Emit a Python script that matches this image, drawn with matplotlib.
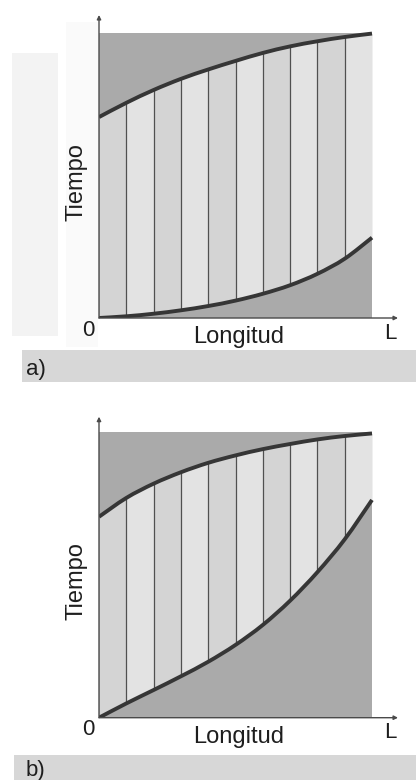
import matplotlib
matplotlib.use("Agg")
import matplotlib.pyplot as plt
from matplotlib.patches import Rectangle, PathPatch
from matplotlib.path import Path

plt.rcParams['font.family'] = ['Liberation Sans', 'DejaVu Sans']

# positions along the length (0..L), fraction of L
x_pos = [0.0, 0.1, 0.2, 0.3, 0.4, 0.5, 0.6, 0.7, 0.8, 0.9, 1.0]

# panel a
upper_a = [0.705, 0.755, 0.800, 0.839, 0.872, 0.902, 0.930, 0.953, 0.971, 0.986, 0.998]
lower_a = [0.0, 0.006, 0.015, 0.027, 0.042, 0.061, 0.085, 0.115, 0.155, 0.208, 0.282]
# panel b
upper_b = [0.704, 0.770, 0.820, 0.860, 0.893, 0.919, 0.941, 0.959, 0.975, 0.987, 0.996]
lower_b = [0.0, 0.050, 0.097, 0.145, 0.196, 0.255, 0.325, 0.410, 0.510, 0.625, 0.763]

y_label = "Tiempo"
x_label = "Longitud"
x_start = "0"
x_end = "L"
panel_labels = ["a)", "b)"]

W, H = 416, 780
fig = plt.figure(figsize=(W / 100, H / 100), dpi=100)
fig.patch.set_facecolor('white')


def fx(px):
    return px / W


def fy(py):
    return 1 - py / H


DARK = '#aaaaaa'
STRIP1 = '#d4d4d4'
STRIP2 = '#e3e3e3'
CURVE = '#363636'
AXC = '#4a4a4a'
TXT = '#1e1e1e'

# faint background rectangles (scan artefacts) in panel a
fig.add_artist(Rectangle((fx(12), fy(336)), fx(58) - fx(12), fy(53) - fy(336),
                         transform=fig.transFigure, facecolor='#f3f3f3', edgecolor='none', zorder=0))
fig.add_artist(Rectangle((fx(66), fy(347)), fx(98) - fx(66), fy(22) - fy(347),
                         transform=fig.transFigure, facecolor='#fafafa', edgecolor='none', zorder=0))


def smooth_path(xs, ys):
    """Cubic Bezier path through the points (Catmull-Rom tangents)."""
    n = len(xs)
    verts = [(xs[0], ys[0])]
    codes = [Path.MOVETO]
    for i in range(n - 1):
        p0 = (xs[max(i - 1, 0)], ys[max(i - 1, 0)])
        p1 = (xs[i], ys[i])
        p2 = (xs[i + 1], ys[i + 1])
        p3 = (xs[min(i + 2, n - 1)], ys[min(i + 2, n - 1)])
        c1 = (p1[0] + (p2[0] - p0[0]) / 6, p1[1] + (p2[1] - p0[1]) / 6)
        c2 = (p2[0] - (p3[0] - p1[0]) / 6, p2[1] - (p3[1] - p1[1]) / 6)
        verts += [c1, c2, p2]
        codes += [Path.CURVE4] * 3
    return Path(verts, codes)


def panel(origin_y, box_top, arrow_top, upper, lower, label_y, band_top, band_bot, band_left, plabel):
    x0, x1, xarrow = 99, 372, 398
    h = origin_y - box_top
    w = x1 - x0
    ytop = (origin_y - arrow_top) / h
    xtop = (xarrow - x0) / w
    ax = fig.add_axes([fx(x0), fy(origin_y), fx(xarrow) - fx(x0), fy(arrow_top) - fy(origin_y)])
    ax.set_xlim(0, xtop)
    ax.set_ylim(0, ytop)
    ax.axis('off')
    ax.patch.set_alpha(0)

    ax.fill_between(x_pos, 0, 1, color=DARK, linewidth=0, zorder=1)
    for i in range(len(x_pos) - 1):
        col = STRIP1 if i % 2 == 0 else STRIP2
        ax.fill_between(x_pos[i:i + 2], lower[i:i + 2], upper[i:i + 2], color=col,
                        linewidth=0, zorder=2)
    ax.vlines(x_pos[1:-1], lower[1:-1], upper[1:-1], color='#505050', lw=0.9, zorder=3)
    for ys in (upper, lower):
        ax.add_patch(PathPatch(smooth_path(x_pos, ys), facecolor='none', edgecolor=CURVE,
                               lw=2.8, capstyle='butt', zorder=4))

    ax.annotate('', xy=(0, ytop), xytext=(0, 0),
                arrowprops=dict(arrowstyle='-|>', color=AXC, lw=1.0, mutation_scale=6,
                                shrinkA=0, shrinkB=0), zorder=5)
    ax.annotate('', xy=(xtop, 0), xytext=(0, 0),
                arrowprops=dict(arrowstyle='-|>', color=AXC, lw=1.0, mutation_scale=6,
                                shrinkA=0, shrinkB=0), zorder=5)

    # labels
    fig.text(fx(76), fy(label_y), y_label, rotation=90, ha='center', va='center',
             fontsize=17, color=TXT)
    fig.text(fx(88), fy(origin_y + 12), x_start, ha='center', va='center',
             fontsize=16, color=TXT)
    fig.text(fx(239), fy(origin_y + 19), x_label, ha='center', va='center',
             fontsize=17, color=TXT)
    fig.text(fx(390), fy(origin_y + 15), x_end, ha='center', va='center',
             fontsize=16, color=TXT)

    fig.add_artist(Rectangle((fx(band_left), fy(band_bot)), 1 - fx(band_left),
                             fy(band_top) - fy(band_bot), transform=fig.transFigure,
                             facecolor='#d7d7d7', edgecolor='none', zorder=0))
    fig.text(fx(26), fy((band_top + band_bot) / 2 + 3), plabel, ha='left', va='center',
             fontsize=16, color=TXT)


panel(318, 33, 15, upper_a, lower_a, 182, 350, 382, 22, panel_labels[0])
panel(717.7, 432.3, 416.7, upper_b, lower_b, 581, 755, 780, 14, panel_labels[1])

fig.savefig('out.png', dpi=100, facecolor='white')
